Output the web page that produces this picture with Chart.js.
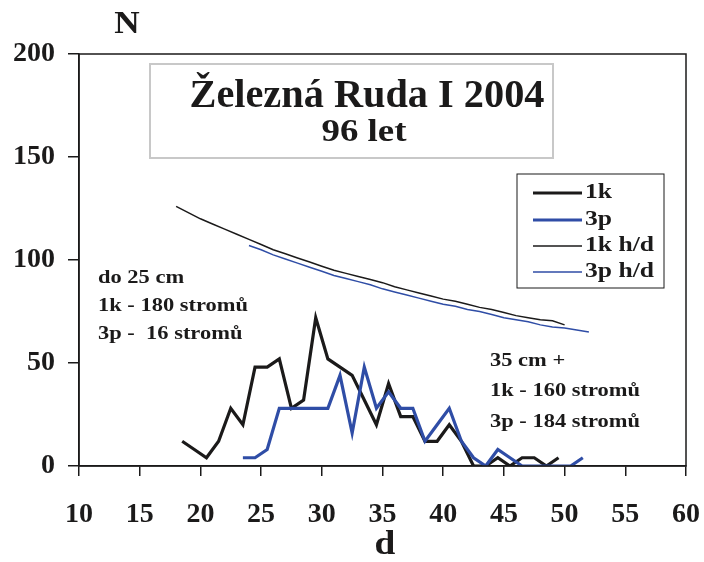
<!DOCTYPE html>
<html>
<head>
<meta charset="utf-8">
<script src="https://cdn.jsdelivr.net/npm/chart.js@4/dist/chart.umd.min.js"></script>
<style>
html,body{margin:0;padding:0;background:#fff;}
canvas{display:block;}
</style>
</head>
<body>
<canvas id="c" width="704" height="562"></canvas>
<script>
// ---- data ----
const d1k = [18.5,19.5,20.5,21.5,22.5,23.5,24.5,25.5,26.5,27.5,28.5,29.5,30.5,31.5,32.5,33.5,34.5,35.5,36.5,37.5,38.5,39.5,40.5,41.5,42.5,43.5,44.5,45.5,46.5,47.5,48.5,49.5];
const n1k = [12,8,4,12,28,20,48,48,52,28,32,72,52,48,44,32,20,40,24,24,12,12,20,12,0,0,4,0,4,4,0,4];
const d3p = [23.5,24.5,25.5,26.5,27.5,28.5,29.5,30.5,31.5,32.5,33.5,34.5,35.5,36.5,37.5,38.5,39.5,40.5,41.5,42.5,43.5,44.5,45.5,46.5,47.5,48.5,49.5,50.5,51.5];
const n3p = [4,4,8,28,28,28,28,28,44,16,48,28,36,28,28,12,20,28,12,4,0,8,4,0,0,0,0,0,4];
const dHd1k = [18,19,20,21,22,23,24,25,26,27,28,29,30,31,32,33,34,35,36,37,38,39,40,41,42,43,44,45,46,47,48,49,50];
const nHd1k = [126,123,120,117.5,115,112.5,110,107.5,105,103,101,99,97,95,93.5,92,90.5,89,87,85.5,84,82.5,81,80,78.5,77,76,74.5,73,72,71,70.5,68.5];
const dHd3p = [24,25,26,27,28,29,30,31,32,33,34,35,36,37,38,39,40,41,42,43,44,45,46,47,48,49,50,51,52];
const nHd3p = [107,105,102.5,100.5,98.5,96.5,94.5,92.5,91,89.5,88,86,84.5,83,81.5,80,78.5,77.5,76,75,73.5,72,71,70,68.5,67.5,67,66,65];
const seriesNames = ["1k","3p","1k h/d","3p h/d"];
const xTicks = [10,15,20,25,30,35,40,45,50,55,60];
const yTicks = [0,50,100,150,200];
const titleLines = ["Železná Ruda I 2004","96 let"];
const noteLeft = ["do 25 cm","1k - 180 stromů","3p -  16 stromů"];
const noteRight = ["35 cm +","1k - 160 stromů","3p - 184 stromů"];

const BLACK = "#1b1a1a";
const BLUE = "#2f4da6";
const FONT = "'Liberation Serif', 'Times New Roman', serif";

function pts(xs, ys){ return xs.map((x,i)=>({x:x,y:ys[i]})); }

// draw text with horizontal stretch factor sx
function txt(ctx, s, x, y, size, sx, align){
  ctx.save();
  ctx.font = "bold " + size + "px " + FONT;
  ctx.textAlign = align; ctx.textBaseline = "middle";
  ctx.translate(x, y); ctx.scale(sx, 1);
  ctx.fillText(s, 0, 0);
  ctx.restore();
}
function fitScale(ctx, s, size, w){
  ctx.save(); ctx.font = "bold " + size + "px " + FONT;
  const m = ctx.measureText(s).width; ctx.restore();
  return w / m;
}

const decor = {
  id:'decor',
  afterDraw(chart){
    const ctx = chart.ctx, a = chart.chartArea;
    ctx.save();
    // frame
    ctx.strokeStyle = BLACK; ctx.lineWidth = 1.5;
    ctx.strokeRect(a.left, a.top, a.right-a.left, a.bottom-a.top);
    // title box
    ctx.fillStyle = "#fff";
    ctx.fillRect(150,64,403,94);
    ctx.strokeStyle = "#c8c8c8"; ctx.lineWidth = 2;
    ctx.strokeRect(150,64,403,94);
    ctx.fillStyle = BLACK;
    txt(ctx, titleLines[0], 367, 97, 40, fitScale(ctx, titleLines[0], 40, 355), "center");
    txt(ctx, titleLines[1], 364, 133, 32, fitScale(ctx, titleLines[1], 32, 85), "center");
    // legend
    ctx.fillStyle = "#fff";
    ctx.fillRect(517,174,147,114);
    ctx.strokeStyle = BLACK; ctx.lineWidth = 1;
    ctx.strokeRect(517,174,147,114);
    const rows = [193,220,246,272];
    const lsx = fitScale(ctx, seriesNames[2], 21, 69);
    chart.data.datasets.forEach((ds,i)=>{
      ctx.strokeStyle = ds.borderColor; ctx.lineWidth = ds.borderWidth;
      ctx.beginPath(); ctx.moveTo(533, rows[i]); ctx.lineTo(582, rows[i]); ctx.stroke();
      ctx.fillStyle = BLACK;
      txt(ctx, ds.label, 585, rows[i], 21, lsx, "left");
    });
    // notes
    ctx.fillStyle = BLACK;
    const nsx = fitScale(ctx, noteLeft[1], 19, 150);
    noteLeft.forEach((t,i)=>txt(ctx, t, 98, 278 + i*28, 19, nsx, "left"));
    noteRight.forEach((t,i)=>txt(ctx, t, 490, 361 + i*30.5, 19, nsx, "left"));
    // axis titles
    txt(ctx, "N", 127, 25, 32, 1.1, "center");
    txt(ctx, "d", 385, 545, 34, 1.1, "center");
    ctx.restore();
  }
};

new Chart(document.getElementById('c'), {
  type:'line',
  data:{
    datasets:[
      {label:seriesNames[0], data:pts(d1k,n1k), borderColor:BLACK, borderWidth:3.2, pointRadius:0, tension:0, order:1},
      {label:seriesNames[1], data:pts(d3p,n3p), borderColor:BLUE, borderWidth:3.2, pointRadius:0, tension:0, order:0},
      {label:seriesNames[2], data:pts(dHd1k,nHd1k), borderColor:BLACK, borderWidth:1.5, pointRadius:0, tension:0},
      {label:seriesNames[3], data:pts(dHd3p,nHd3p), borderColor:BLUE, borderWidth:1.5, pointRadius:0, tension:0}
    ]
  },
  options:{
    responsive:false, animation:false,
    layout:{padding:{top:54,right:0,left:0,bottom:0}},
    plugins:{legend:{display:false}, tooltip:{enabled:false}, title:{display:false}},
    scales:{
      x:{type:'linear', min:10, max:60,
        afterBuildTicks(s){ s.ticks = xTicks.map(v=>({value:v})); },
        afterFit(s){ s.height = 96; s.paddingRight = 18; },
        grid:{drawOnChartArea:false, drawTicks:true, tickLength:10, color:BLACK, lineWidth:1.5},
        border:{display:true, color:BLACK, width:1.5},
        ticks:{padding:22, color:BLACK, font:{family:FONT, size:28, weight:'bold'}, maxRotation:0}
      },
      y:{type:'linear', min:0, max:200,
        afterBuildTicks(s){ s.ticks = yTicks.map(v=>({value:v})); },
        afterFit(s){ s.width = 79; },
        grid:{drawOnChartArea:false, drawTicks:true, tickLength:11, color:BLACK, lineWidth:1.5},
        border:{display:true, color:BLACK, width:1.5},
        ticks:{padding:13, color:BLACK, font:{family:FONT, size:28, weight:'bold'}}
      }
    }
  },
  plugins:[decor]
});
</script>
</body>
</html>
